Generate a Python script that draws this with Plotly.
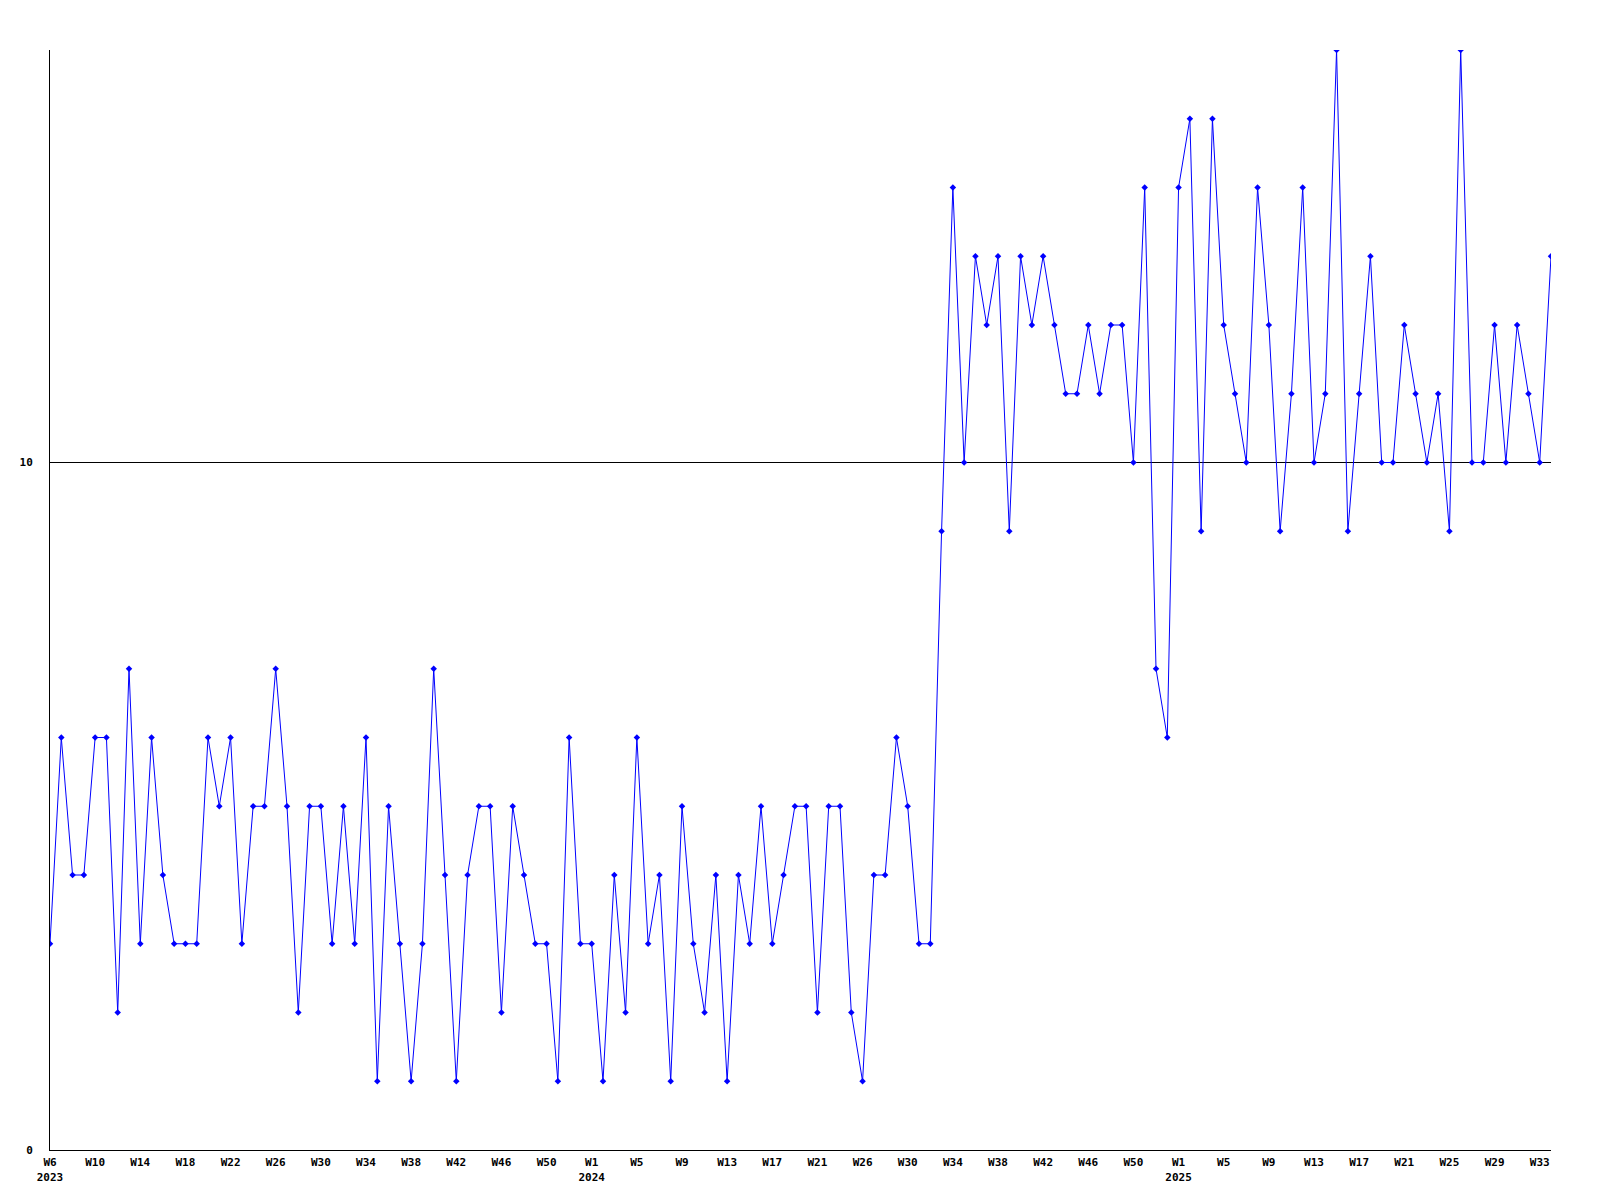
import plotly.graph_objects as go

# Weekly values, 2023 W6 .. 2025 W34
values = [
    3, 6, 4, 4, 6, 6, 2, 7, 3, 6, 4, 3, 3, 3, 6, 5, 6, 3, 5, 5,
    7, 5, 2, 5, 5, 3, 5, 3, 6, 1, 5, 3, 1, 3, 7, 4, 1, 4, 5, 5,
    2, 5, 4, 3, 3, 1, 6, 3, 3, 1, 4, 2, 6, 3, 4, 1, 5, 3, 2, 4,
    1, 4, 3, 5, 3, 4, 5, 5, 2, 5, 5, 2, 1, 4, 4, 6, 5, 3, 3, 9,
    14, 10, 13, 12, 13, 9, 13, 12, 13, 12, 11, 11, 12, 11, 12, 12, 10, 14, 7, 6,
    14, 15, 9, 15, 12, 11, 10, 14, 12, 9, 11, 14, 10, 11, 16, 9, 11, 13, 10, 10,
    12, 11, 10, 11, 9, 16, 10, 10, 12, 10, 12, 11, 10, 13,
]

tick_labels = [
    "W6<br>2023", "W10", "W14", "W18", "W22", "W26", "W30", "W34", "W38", "W42", "W46", "W50",
    "W1<br>2024", "W5", "W9", "W13", "W17", "W21", "W26", "W30", "W34", "W38", "W42", "W46", "W50",
    "W1<br>2025", "W5", "W9", "W13", "W17", "W21", "W25", "W29", "W33",
]
tick_step = 4

y_ticks = [0, 10]
y_tick_labels = ["0", "10"]

x = list(range(len(values)))
tickvals = x[::tick_step][:len(tick_labels)]

font = dict(family="DejaVu Sans Mono", size=11, color="black", weight="bold")

fig = go.Figure()
fig.add_trace(go.Scatter(
    x=x, y=values, mode="lines+markers",
    line=dict(color="#0000ff", width=1),
    marker=dict(symbol="diamond", size=5, color="#0000ff"),
    showlegend=False, hoverinfo="skip",
))

fig.update_layout(
    width=1600, height=1200,
    margin=dict(l=42, r=57, t=42, b=58),
    paper_bgcolor="white", plot_bgcolor="white",
    font=font,
)
fig.update_xaxes(
    range=[0, len(values) - 1],
    tickvals=tickvals, ticktext=tick_labels,
    showgrid=False, zeroline=False,
    showline=True, linecolor="black", linewidth=1,
    ticks="", tickfont=font, ticklabelstandoff=2,
)
fig.update_yaxes(
    range=[0, 16],
    tickvals=y_ticks, ticktext=y_tick_labels,
    showgrid=True, gridcolor="black", gridwidth=1,
    zeroline=False,
    showline=True, linecolor="black", linewidth=1,
    ticks="", tickfont=font, ticklabelstandoff=14,
)

fig.write_html("out.html")
